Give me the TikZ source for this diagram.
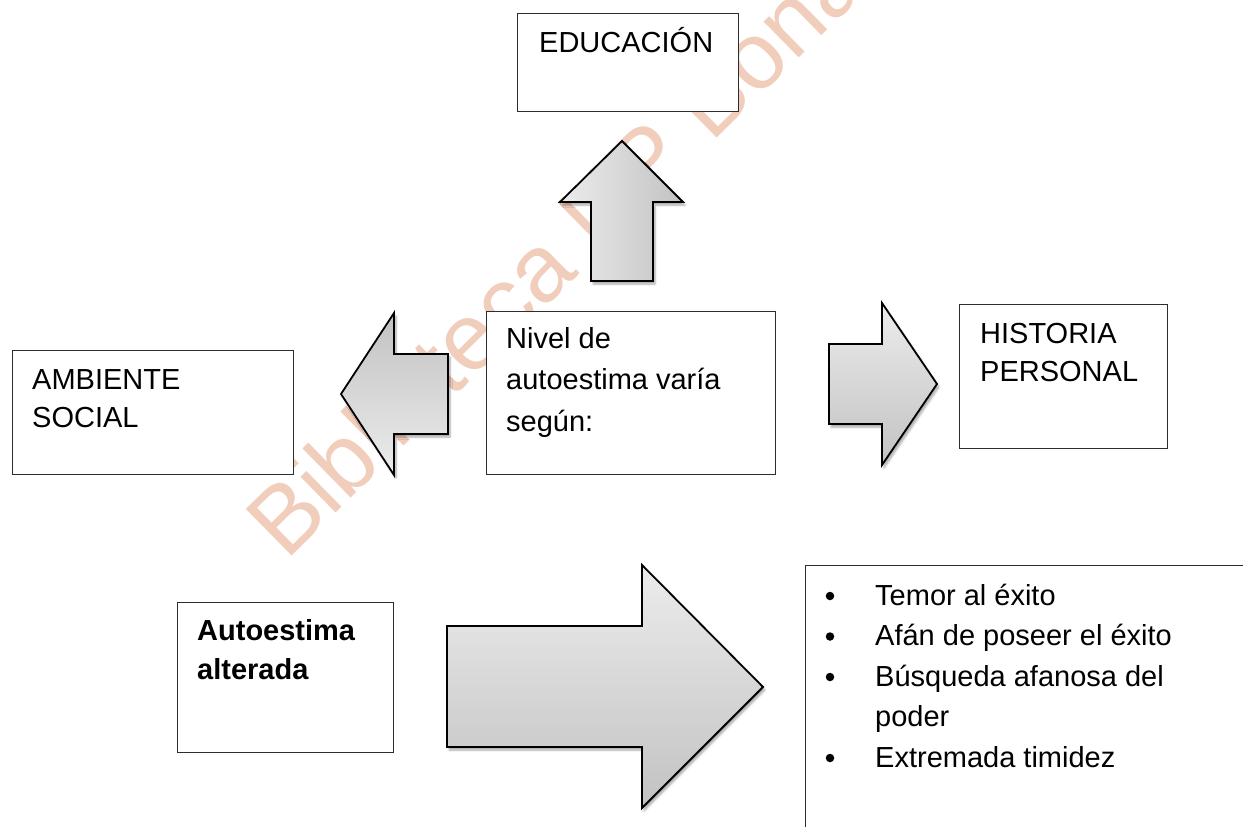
\documentclass[tikz,border=0pt]{standalone}
\usepackage{fontspec}
\setmainfont{Liberation Sans}
\usetikzlibrary{shadows.blur}
\definecolor{wm}{RGB}{241,205,188}
\definecolor{arlight}{RGB}{236,236,236}
\definecolor{ardark}{RGB}{194,194,194}
\definecolor{boxline}{RGB}{45,45,45}
\tikzset{
  box/.style={draw=boxline, line width=1.3pt, fill=white, inner sep=0pt, anchor=north west},
  lbl/.style={anchor=base west, inner sep=0pt, font=\fontsize{29}{35}\selectfont},
  blbl/.style={lbl, font=\fontsize{29}{35}\selectfont\bfseries},
  blockarrow/.style={draw=black, line width=1.8pt, line join=miter,
    blur shadow={shadow xshift=2pt, shadow yshift=-3pt, shadow blur steps=6, shadow opacity=35}},
  bullet/.style={circle, fill=black, inner sep=0pt, minimum size=8.5pt},
  wmark/.style={anchor=base west, inner sep=0pt, text=wm, rotate=44.5, font=\fontsize{95}{95}\selectfont}
}
\begin{document}
\begin{tikzpicture}[x=1pt,y=-1pt]
\useasboundingbox (0,0) rectangle (1243,827);
\clip (0,0) rectangle (1243,827);
% watermark
\node[wmark] (wm) at (286,562) {Biblioteca UP Bona};
% boxes
\node[box, minimum width=221pt, minimum height=98pt] (edu) at (517,13) {};
\node[box, minimum width=281pt, minimum height=124pt] (amb) at (12,350) {};
\node[box, minimum width=289pt, minimum height=163pt] (niv) at (486,311) {};
\node[box, minimum width=208pt, minimum height=144pt] (his) at (959,304) {};
\node[box, minimum width=216pt, minimum height=150pt] (alt) at (177,602) {};
\node[box, minimum width=480pt, minimum height=300pt] (lst) at (805,565) {};
% texts
\node[lbl] (edut) at (539,52) {EDUCACIÓN};
\node[lbl] (ambt1) at (32,389) {AMBIENTE};
\node[lbl] (ambt2) at (32,427) {SOCIAL};
\node[lbl] (nivt1) at (506,348) {Nivel de};
\node[lbl] (nivt2) at (506,389) {autoestima varía};
\node[lbl] (nivt3) at (506,431) {según:};
\node[lbl] (hist1) at (980,343) {HISTORIA};
\node[lbl] (hist2) at (980,381) {PERSONAL};
\node[blbl] (altt1) at (197,640) {Autoestima};
\node[blbl] (altt2) at (197,679) {alterada};
\node[lbl] (l1) at (875,605) {Temor al éxito};
\node[lbl] (l2) at (875,645.5) {Afán de poseer el éxito};
\node[lbl] (l3) at (875,686) {Búsqueda afanosa del};
\node[lbl] (l4) at (875,726.5) {poder};
\node[lbl] (l5) at (875,767) {Extremada timidez};
\node[bullet] (b1) at (830,596) {};
\node[bullet] (b2) at (830,636.5) {};
\node[bullet] (b3) at (830,677) {};
\node[bullet] (b5) at (830,758) {};
% block arrows
\path[blockarrow, left color=arlight, right color=ardark]
  (622,141) -- (683,202) -- (653,202) -- (653,281) -- (591,281) -- (591,202) -- (560,202) -- cycle;
\path[blockarrow, top color=ardark, bottom color=arlight]
  (341,394) -- (394,313) -- (394,354) -- (448,354) -- (448,434) -- (394,434) -- (394,475) -- cycle;
\path[blockarrow, top color=arlight, bottom color=ardark]
  (829,344) -- (882,344) -- (882,303) -- (937,384) -- (882,465) -- (882,424) -- (829,424) -- cycle;
\path[blockarrow, top color=arlight, bottom color=ardark]
  (447,626) -- (642,626) -- (642,565) -- (763,687) -- (642,808) -- (642,747) -- (447,747) -- cycle;
\end{tikzpicture}
\end{document}
